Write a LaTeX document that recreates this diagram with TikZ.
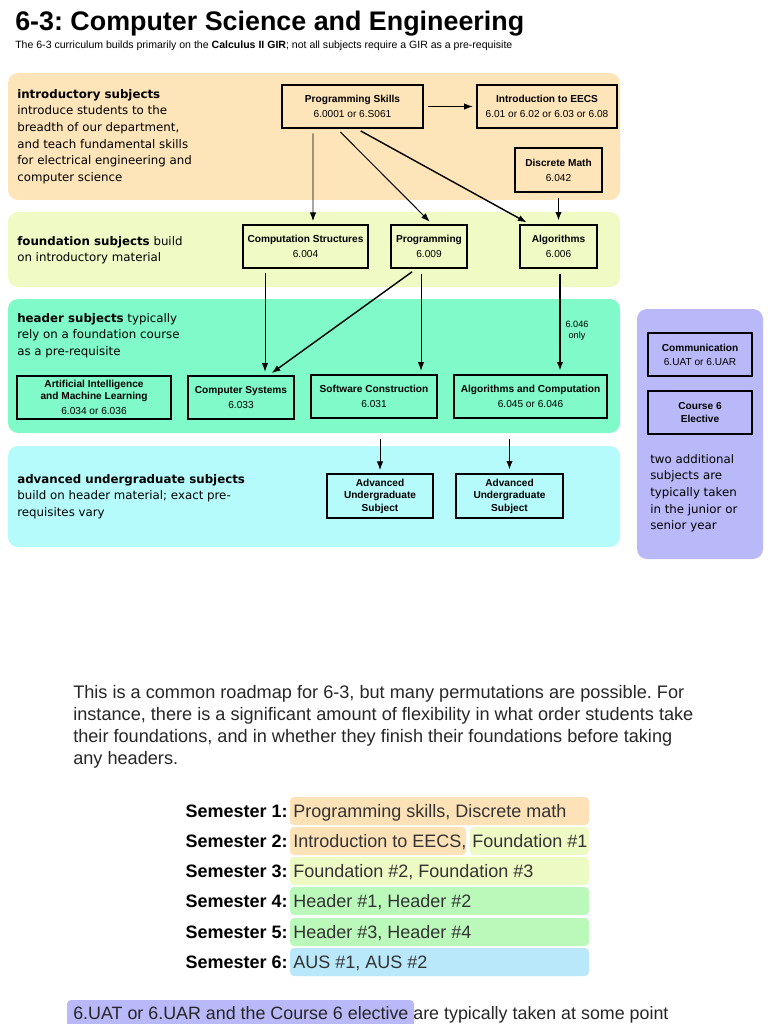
\documentclass[tikz,border=0pt]{standalone}
\usepackage{fontspec}
\setmainfont{Liberation Sans}
\newfontfamily\regionfont{DejaVu Sans}
\usetikzlibrary{arrows.meta}
\frenchspacing
\definecolor{introbg}{RGB}{253,228,185}
\definecolor{foundbg}{RGB}{239,250,196}
\definecolor{headbg}{RGB}{128,250,200}
\definecolor{advbg}{RGB}{182,251,251}
\definecolor{sidebg}{RGB}{185,185,250}
\definecolor{semorange}{RGB}{253,226,184}
\definecolor{semyellow}{RGB}{238,250,196}
\definecolor{semgreen}{RGB}{186,249,186}
\definecolor{semblue}{RGB}{186,232,251}
\newcommand{\pix}{0.025cm}
\tikzset{
  subject/.style={draw, line width=1.4pt, align=center, inner sep=0pt, font=\fontsize{7.2}{10.7}\selectfont},
  light/.style={line width=0.9pt},
  region/.style={rounded corners=0.25cm},
  blurb/.style={anchor=north west, inner sep=0pt, align=left, font=\regionfont\fontsize{8.4}{11.8}\selectfont},
  prereq/.style={-{Latex[length=0.22cm,width=0.16cm]}, line width=0.7pt, shorten <=0.12cm, shorten >=0.08cm},
  heavy/.style={line width=1.4pt},
  semlabel/.style={anchor=base east, inner sep=0pt, font=\bfseries\fontsize{12.8}{14}\selectfont},
  plan/.style={anchor=base west, inner sep=0pt, text=black!80, font=\fontsize{12.8}{14}\selectfont},
}
\begin{document}
\begin{tikzpicture}[x=\pix,y=-\pix]
  \useasboundingbox (0,0) rectangle (768,1024);
  \node[anchor=base west, inner sep=0pt, font=\bfseries\fontsize{19.1}{22}\selectfont] (title) at (15,31) {6-3: Computer Science and Engineering};
  \node[anchor=base west, inner sep=0pt, font=\fontsize{7.5}{9}\selectfont] (subtitle) at (15,49) {The 6-3 curriculum builds primarily on the \textbf{Calculus II GIR}; not all subjects require a GIR as a pre-requisite};

  % bands
  \fill[introbg, region] (8,73) rectangle (620,200);
  \fill[foundbg, region] (8,212) rectangle (620,287);
  \fill[headbg, region] (8,299) rectangle (620,433);
  \fill[advbg, region] (8,446) rectangle (620,547);
  \fill[sidebg, region] (637,309) rectangle (763,559);

  \node[blurb] (introtxt) at (17,89) {\textbf{introductory subjects}\\introduce students to the\\breadth of our department,\\and teach fundamental skills\\for electrical engineering and\\computer science};
  \node[blurb] (foundtxt) at (17,236) {\textbf{foundation subjects} build\\on introductory material};
  \node[blurb] (headtxt) at (17,313) {\textbf{header subjects} typically\\rely on a foundation course\\as a pre-requisite};
  \node[blurb] (advtxt) at (17,474) {\textbf{advanced undergraduate subjects}\\build on header material; exact pre-\\requisites vary};
  \node[blurb] (sidetxt) at (650,454) {two additional\\subjects are\\typically taken\\in the junior or\\senior year};

  % subjects
  \node[subject, light, minimum width=141*\pix, minimum height=43*\pix] (ps) at (352.5,106.5) {\textbf{Programming Skills}\\6.0001 or 6.S061};
  \node[subject, minimum width=140*\pix, minimum height=43*\pix] (eecs) at (547,106.5) {\textbf{Introduction to EECS}\\6.01 or 6.02 or 6.03 or 6.08};
  \node[subject, minimum width=87*\pix, minimum height=44*\pix] (dm) at (558.5,170) {\textbf{Discrete Math}\\6.042};
  \node[subject, light, minimum width=125*\pix, minimum height=43*\pix] (cs) at (305.5,246.5) {\textbf{Computation Structures}\\6.004};
  \node[subject, minimum width=76*\pix, minimum height=43*\pix] (prog) at (429,246.5) {\textbf{Programming}\\6.009};
  \node[subject, minimum width=77*\pix, minimum height=43*\pix] (alg) at (558.5,246.5) {\textbf{Algorithms}\\6.006};
  \node[subject, minimum width=154*\pix, minimum height=43*\pix, font=\fontsize{7.2}{8.6}\selectfont] (ai) at (94,397.5) {\textbf{Artificial Intelligence}\\\textbf{and Machine Learning}\\[2pt]6.034 or 6.036};
  \node[subject, minimum width=106*\pix, minimum height=43*\pix] (csys) at (241,397.5) {\textbf{Computer Systems}\\6.033};
  \node[subject, minimum width=126*\pix, minimum height=43*\pix] (sc) at (374,396.5) {\textbf{Software Construction}\\6.031};
  \node[subject, minimum width=153*\pix, minimum height=43*\pix] (ac) at (530.5,396.5) {\textbf{Algorithms and Computation}\\6.045 or 6.046};
  \node[subject, light, minimum width=106*\pix, minimum height=44*\pix, font=\bfseries\fontsize{7.2}{8.9}\selectfont] (aus1) at (380,496) {Advanced\\Undergraduate\\Subject};
  \node[subject, minimum width=107*\pix, minimum height=44*\pix, font=\bfseries\fontsize{7.2}{8.9}\selectfont] (aus2) at (509.5,496) {Advanced\\Undergraduate\\Subject};
  \node[subject, minimum width=104*\pix, minimum height=43*\pix, font=\fontsize{7.2}{10}\selectfont] (comm) at (700,354.5) {\textbf{Communication}\\6.UAT or 6.UAR};
  \node[subject, minimum width=104*\pix, minimum height=43*\pix, font=\bfseries\fontsize{7.2}{8.6}\selectfont] (elec) at (700,412.5) {Course 6\\Elective};
  \node[align=center, inner sep=0pt, font=\fontsize{6.5}{7.8}\selectfont] (only) at (577,331) {6.046\\only};

  % prerequisites
  \draw[prereq] (ps) -- (eecs);
  \draw[prereq] ([xshift=-39.5*\pix]ps.south) -- ([xshift=7.5*\pix]cs.north);
  \draw[prereq] ([xshift=-15.5*\pix]ps.south) -- ([xshift=3*\pix]prog.north);
  \draw[prereq, line width=1pt] ([xshift=4*\pix]ps.south) -- ([xshift=-29*\pix]alg.north);
  \draw[prereq, heavy] (dm) -- (alg);
  \draw[prereq] ([xshift=-40.5*\pix]cs.south) -- ([xshift=24*\pix]csys.north);
  \draw[prereq, line width=1pt] ([xshift=-13*\pix]prog.south) -- ([xshift=28*\pix]csys.north);
  \draw[prereq] ([xshift=-8*\pix]prog.south) -- ([xshift=47*\pix]sc.north);
  \draw[prereq, heavy] ([xshift=1.5*\pix]alg.south) -- ([xshift=29.5*\pix]ac.north);
  \coordinate (fromsc) at (380,439);
  \coordinate (fromac) at (509.5,439);
  \draw[prereq, shorten <=0pt] (fromsc) -- (aus1);
  \draw[prereq, heavy, shorten <=0pt] (fromac) -- (aus2);

  \node[anchor=north west, inner sep=0pt, align=left, text=black!85, font=\fontsize{12.9}{15.65}\selectfont] (note) at (73,685) {This is a common roadmap for 6-3, but many permutations are possible. For\\instance, there is a significant amount of flexibility in what order students take\\their foundations, and in whether they finish their foundations before taking\\any headers.};

  % semesters
  \foreach \n/\y/\c/\t in {1/817/semorange/{Programming skills, Discrete math},
                          3/877/semyellow/{Foundation \#2, Foundation \#3},
                          4/907/semgreen/{Header \#1, Header \#2},
                          5/938/semgreen/{Header \#3, Header \#4},
                          6/968/semblue/{AUS \#1, AUS \#2}} {
    \fill[\c, rounded corners=0.1cm] (290,\y-20) rectangle (589,\y+8);
    \node[plan] (row\n) at (293,\y) {\t};
  }
  \fill[semorange, rounded corners=0.1cm] (290,827) rectangle (466,855);
  \fill[semyellow, rounded corners=0.1cm] (470,827) rectangle (589,855);
  \node[plan] (row2) at (293,847) {Introduction to EECS,};
  \node[plan] (row2b) at (472,847) {Foundation \#1};
  \foreach \n/\y in {1/817,2/847,3/877,4/907,5/938,6/968}
    \node[semlabel] (sem\n) at (288,\y) {Semester \n:};

  \fill[sidebg, rounded corners=0.1cm] (67,1024) -- (67,1000) -- (414,1000) [sharp corners] -- (414,1024) -- cycle;
  \node[plan, text=black!85, font=\fontsize{12.7}{14}\selectfont] (last) at (73,1019) {6.UAT or 6.UAR and the Course 6 elective are typically taken at some point};
\end{tikzpicture}
\end{document}
